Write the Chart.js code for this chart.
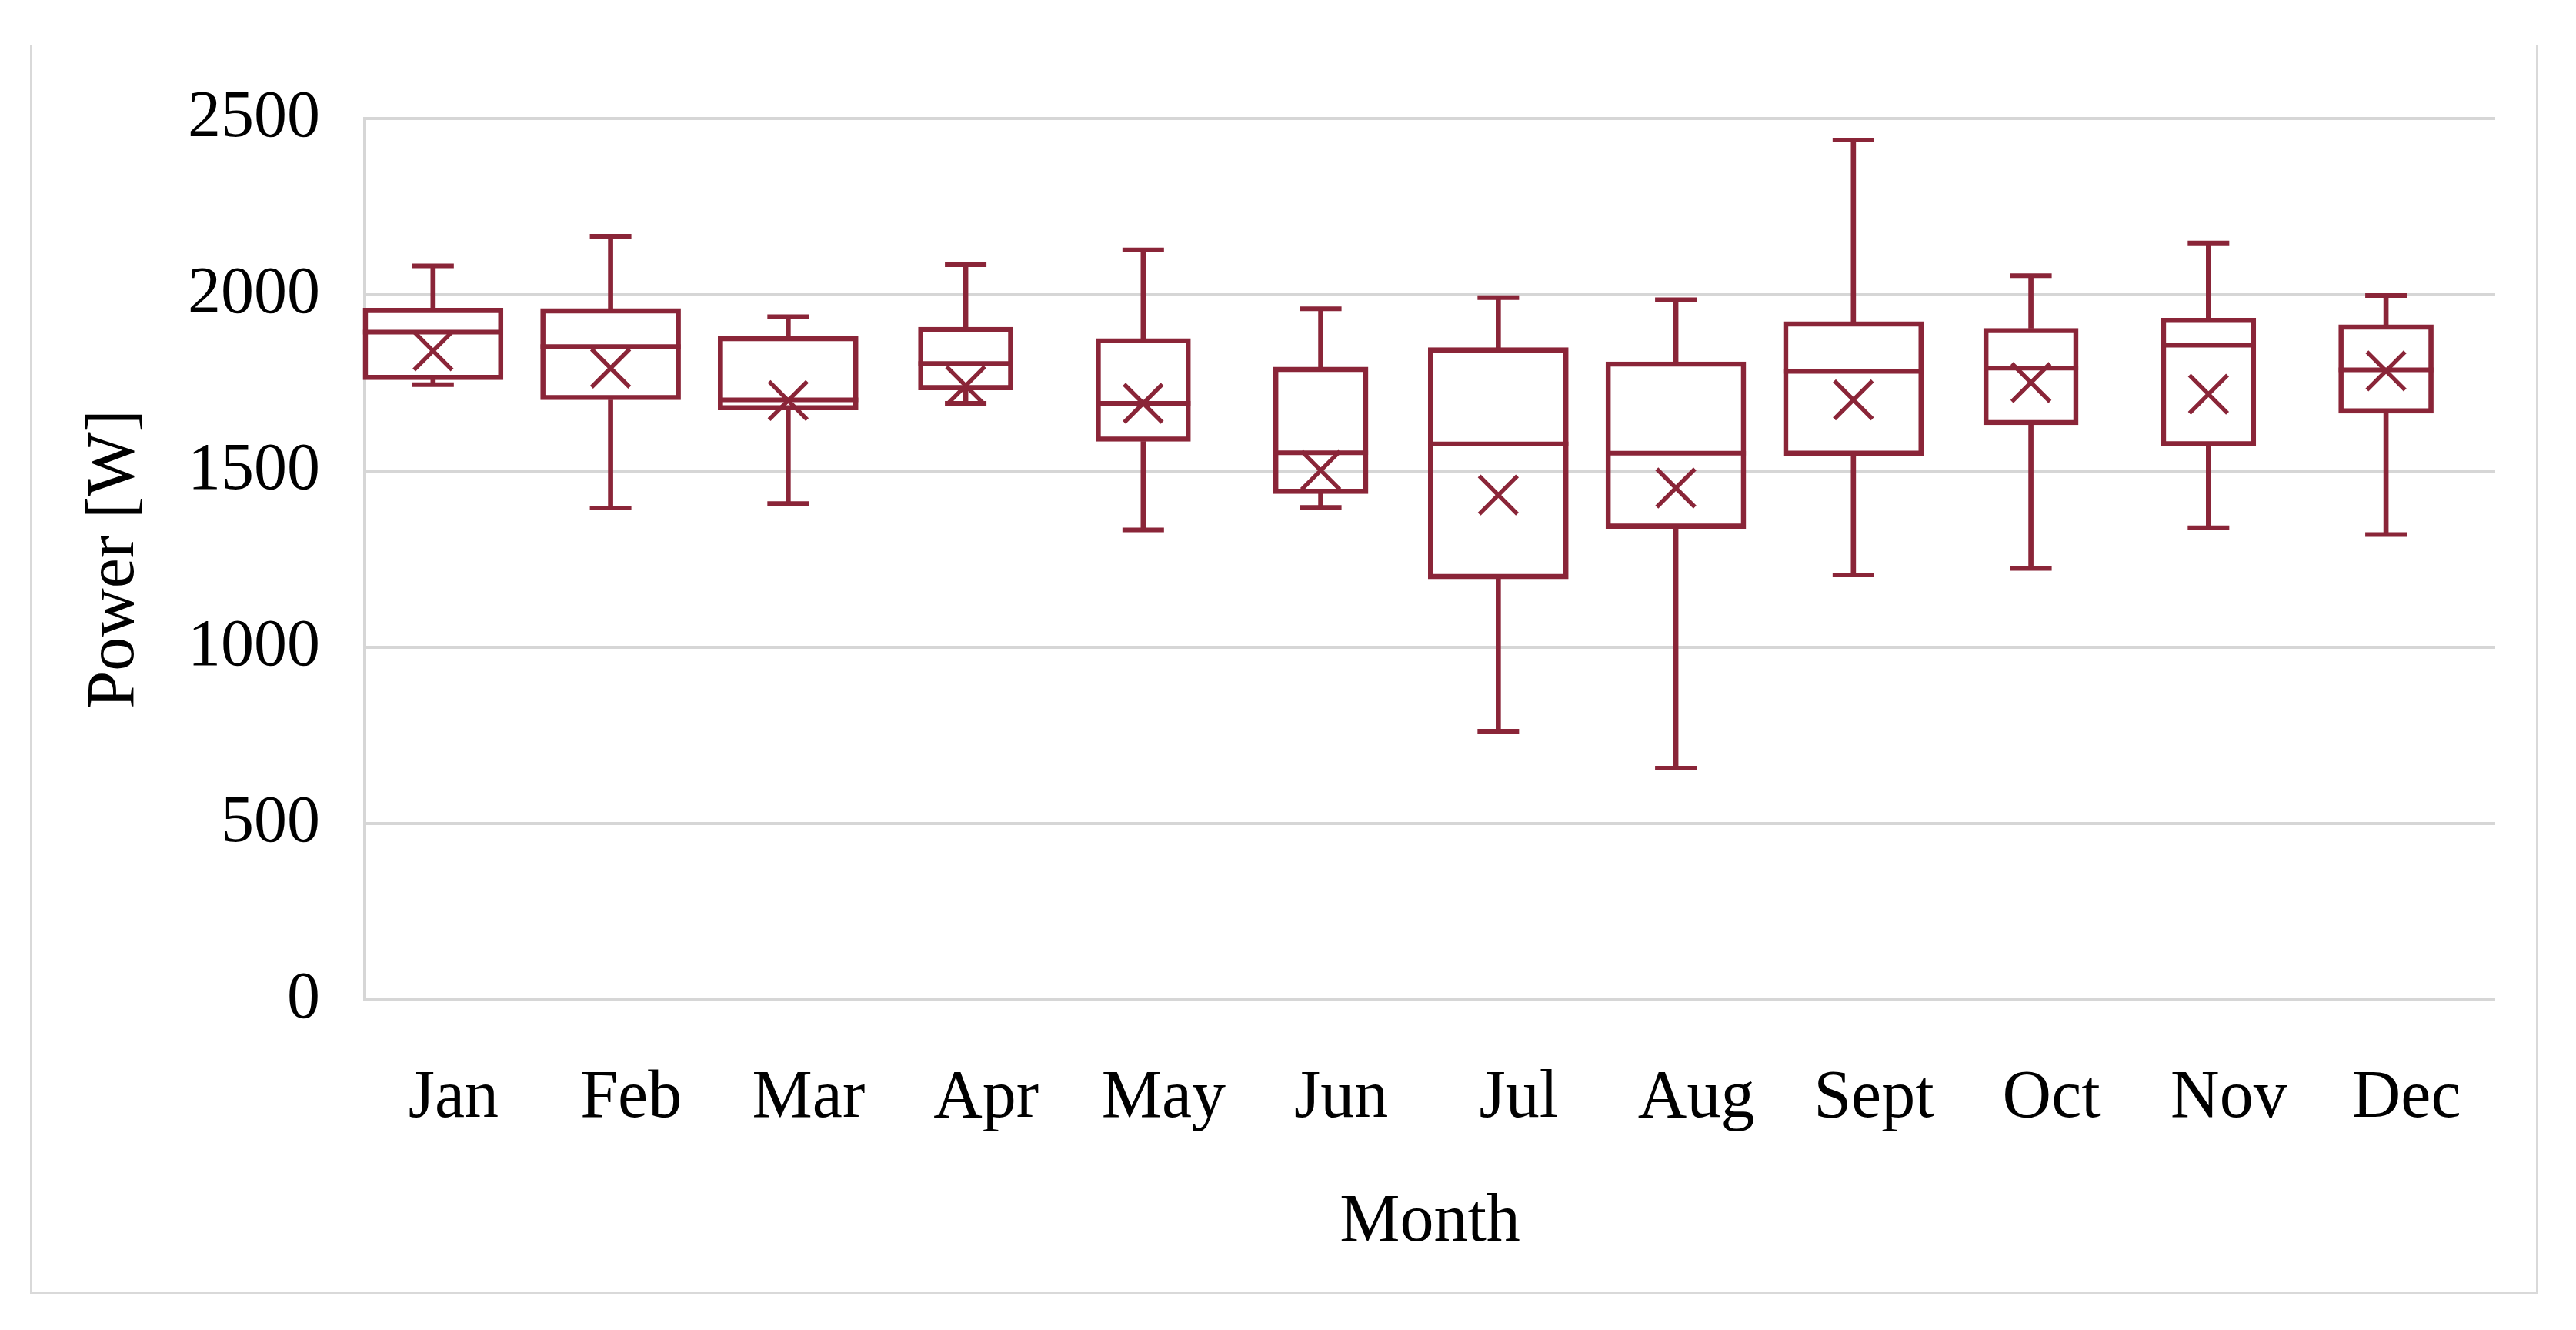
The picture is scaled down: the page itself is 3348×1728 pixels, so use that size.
<!DOCTYPE html>
<html>
<head>
<meta charset="utf-8">
<title>Monthly power box plot</title>
<script src="https://cdn.jsdelivr.net/npm/chart.js@4/dist/chart.umd.min.js"></script>
<style>
  html, body { margin: 0; padding: 0; background: #fff; }
  #wrap { position: relative; width: 3348px; height: 1728px; }
  #frame {
    position: absolute; left: 39px; top: 58px; width: 3260px; height: 1623px;
    border: 3px solid #d9d9d9; border-top: none; box-sizing: border-box; pointer-events: none;
  }
</style>
</head>
<body>
<div id="wrap">
  <canvas id="powerChart" width="3348" height="1728"></canvas>
  <div id="frame"></div>
</div>
<script>
'use strict';

// values (W)
const months = ['Jan', 'Feb', 'Mar', 'Apr', 'May', 'Jun', 'Jul', 'Aug', 'Sept', 'Oct', 'Nov', 'Dec'];
const whiskerMax = [2082, 2166, 1938, 2085, 2127, 1960, 1992, 1986, 2439, 2054, 2147, 1998];
const q3 = [1962, 1961, 1882, 1908, 1876, 1795, 1850, 1810, 1924, 1905, 1934, 1915];
const median = [1894, 1853, 1702, 1805, 1692, 1552, 1577, 1551, 1783, 1792, 1857, 1787];
const q1 = [1759, 1702, 1673, 1730, 1584, 1436, 1194, 1337, 1544, 1631, 1571, 1664];
const whiskerMin = [1745, 1395, 1408, 1692, 1333, 1397, 762, 657, 1205, 1224, 1339, 1320];
const mean = [1841, 1792, 1700, 1742, 1692, 1502, 1432, 1452, 1702, 1751, 1718, 1784];
const yTicks = [0, 500, 1000, 1500, 2000, 2500];

// styling
const MAROON = '#8a2538';
const GRID = '#d6d6d6';
const FONT = "'Liberation Serif', 'Times New Roman', serif";
const WIDE_MONTHS = ['Jan', 'Feb', 'Mar', 'Jul', 'Aug', 'Sept'];
const isWide = i => WIDE_MONTHS.includes(months[i]);

const points = values => months.map((m, i) => ({ x: i, y: values[i] }));
const ranges = (lo, hi) => months.map((m, i) => ({ x: i, y: [lo[i], hi[i]] }));

const common = { xAxisID: 'xb', yAxisID: 'y', clip: false };

const markers = (label, values, style, radius, width, order) => Object.assign({
  type: 'line',
  label: label,
  data: points(values),
  showLine: false,
  pointStyle: style,
  pointRadius: radius,
  pointHoverRadius: radius,
  pointBorderWidth: width,
  pointBorderColor: MAROON,
  pointBackgroundColor: 'transparent',
  order: order
}, common);

const boxes = wide => Object.assign({
  type: 'bar',
  label: wide ? 'Box' : 'Box (narrow)',
  data: ranges(q1, q3).filter((d, i) => isWide(i) === wide),
  barThickness: wide ? 182 : 123,
  borderWidth: 6,
  borderColor: MAROON,
  backgroundColor: 'transparent',
  borderSkipped: false,
  grouped: false,
  order: 3
}, common);

const whisker = (label, lo, hi) => Object.assign({
  type: 'bar',
  label: label,
  data: ranges(lo, hi),
  barThickness: 6,
  backgroundColor: MAROON,
  borderWidth: 0,
  grouped: false,
  order: 4
}, common);

new Chart(document.getElementById('powerChart').getContext('2d'), {
  type: 'bar',
  data: {
    labels: months,
    datasets: [
      markers('Mean', mean, 'crossRot', 35, 5.5, 0),
      markers('Median', median, 'line', ctx => (isWide(ctx.dataIndex) ? 91 : 61.5), 6, 1),
      markers('Max', whiskerMax, 'line', 27, 6, 2),
      markers('Min', whiskerMin, 'line', 27, 6, 2),
      boxes(true),
      boxes(false),
      whisker('Upper whisker', q3, whiskerMax),
      whisker('Lower whisker', whiskerMin, q1)
    ]
  },
  options: {
    responsive: false,
    devicePixelRatio: 1,
    animation: false,
    events: [],
    layout: { padding: { left: 60, right: 105, top: 154, bottom: 0 } },
    plugins: { legend: { display: false }, tooltip: { enabled: false } },
    scales: {
      x: {
        type: 'category',
        offset: true,
        grid: { display: false, drawTicks: false },
        border: { display: false },
        ticks: {
          padding: 76, color: '#000', autoSkip: false, maxRotation: 0, minRotation: 0,
          font: { family: FONT, size: 88 }
        },
        title: {
          display: true, text: 'Month', color: '#000',
          font: { family: FONT, size: 88 }, padding: { top: 0, bottom: 86 }
        },
        afterFit: s => { s.height = 429; }
      },
      // boxes sit a little left of the label centres, as in the figure
      xb: {
        type: 'linear', axis: 'x', display: false, offset: false,
        min: -0.385, max: 11.615
      },
      y: {
        min: 0,
        max: 2500,
        afterBuildTicks: s => { s.ticks = yTicks.map(v => ({ value: v })); },
        ticks: {
          padding: 58, color: '#000', font: { family: FONT, size: 86 },
          callback: v => String(v)
        },
        grid: { color: GRID, lineWidth: 4, drawTicks: false },
        border: { display: true, color: GRID, width: 4 },
        title: {
          display: true, text: 'Power [W]', color: '#000',
          font: { family: FONT, size: 88 }, padding: { top: 37, bottom: 0 }
        },
        afterFit: s => { s.width = 414; }
      }
    }
  }
});
</script>
</body>
</html>
